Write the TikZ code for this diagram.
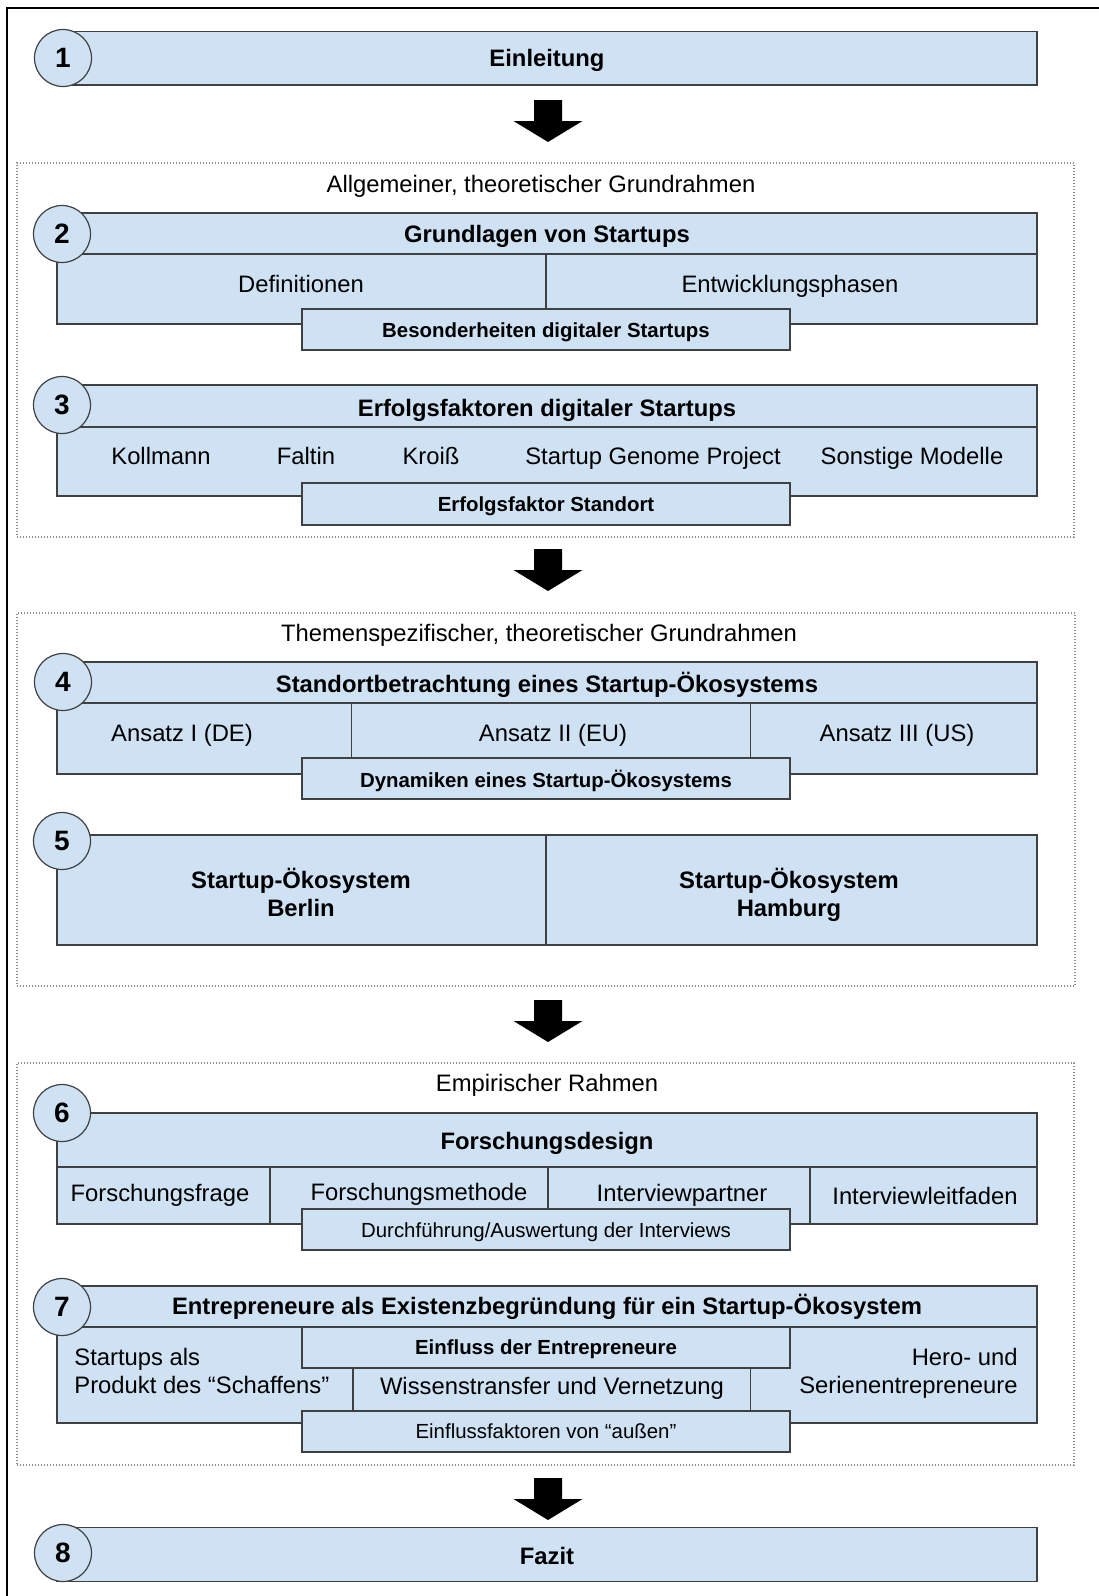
\documentclass[tikz,border=0pt]{standalone}
\usepackage{fontspec}
\setmainfont{Liberation Sans}
\usetikzlibrary{fit}
\definecolor{boxblue}{HTML}{CFE2F3}
\definecolor{boxline}{HTML}{404040}
\definecolor{frameline}{HTML}{8C8C8C}
\newcommand\fmain{\fontsize{11.9pt}{14pt}\selectfont}
\newcommand\fsmall{\fontsize{10.2pt}{12pt}\selectfont}
\newcommand\fnum{\fontsize{14pt}{16pt}\selectfont\bfseries}
\tikzset{
  cell/.style={draw=boxline, fill=boxblue, line width=0.75pt, inner sep=0pt, rectangle},
  sectframe/.style={draw=frameline, line width=0.6pt, dash pattern=on 0.5pt off 1pt, inner sep=0pt, rectangle},
  num/.style={circle, draw=boxline, fill=boxblue, line width=0.6pt, minimum size=28.5pt, inner sep=0pt, font=\fnum},
  txt/.style={anchor=base, inner sep=0pt, font=\fmain},
  btxt/.style={anchor=base, inner sep=0pt, font=\fmain\bfseries},
  stxt/.style={anchor=base, inner sep=0pt, font=\fsmall},
  sbtxt/.style={anchor=base, inner sep=0pt, font=\fsmall\bfseries},
  downarr/.pic={\fill[black] (-14,0) -- (14,0) -- (14,21) -- (34.5,21) -- (0,42) -- (-34.5,21) -- (-14,21) -- cycle;}
}
\begin{document}
\begin{tikzpicture}[x=0.5pt,y=-0.5pt]
\useasboundingbox (0,0) rectangle (1098,1596);
% outer frame (cut off at right and bottom)
\draw[black, line width=1pt] (1120,8) -- (7,8) -- (7,1620);

% dotted section frames
\node[sectframe, fit={(17,163) (1074,537)}] (frA) {};
\node[sectframe, fit={(17,613) (1075,986)}] (frB) {};
\node[sectframe, fit={(17,1063) (1074,1465)}] (frC) {};
\node[txt] (tA) at (541,192.5) {Allgemeiner, theoretischer Grundrahmen};
\node[txt] (tB) at (539,641.5) {Themenspezifischer, theoretischer Grundrahmen};
\node[txt] (tC) at (547,1091.5) {Empirischer Rahmen};

% arrows
\pic (a1) at (548,100) {downarr};
\pic (a2) at (548,549) {downarr};
\pic (a3) at (548,1000) {downarr};
\pic (a4) at (548,1478) {downarr};

% 1
\node[cell, fit={(57,31.7) (1037,85)}] (b1) {};
\node[num] (n1) at (63,58) {1};
\node[btxt] (t1) at (547,66.5) {Einleitung};

% 2
\node[cell, fit={(57,213) (1037,254)}] (h2) {};
\node[cell, fit={(57,254) (546,324)}] (c2a) {};
\node[cell, fit={(546,254) (1037,324)}] (c2b) {};
\node[cell, fit={(302,309) (790,350)}] (o2) {};
\node[num] (n2) at (62,234) {2};
\node[btxt] (t2) at (547,242.5) {Grundlagen von Startups};
\node[txt] (t2a) at (301,292.5) {Definitionen};
\node[txt] (t2b) at (790,292.5) {Entwicklungsphasen};
\node[sbtxt] (t2o) at (546,337.3) {Besonderheiten digitaler Startups};

% 3
\node[cell, fit={(57,385) (1037,427)}] (h3) {};
\node[cell, fit={(57,427) (1037,496)}] (c3) {};
\node[cell, fit={(302,483) (790,525)}] (o3) {};
\node[num] (n3) at (62,405) {3};
\node[btxt] (t3) at (547,416.5) {Erfolgsfaktoren digitaler Startups};
\node[txt] (t3a) at (161,464.5) {Kollmann};
\node[txt] (t3b) at (306,464.5) {Faltin};
\node[txt] (t3c) at (431,464.5) {Kroiß};
\node[txt] (t3d) at (653,464.5) {Startup Genome Project};
\node[txt] (t3e) at (912,464.5) {Sonstige Modelle};
\node[sbtxt] (t3o) at (546,511.3) {Erfolgsfaktor Standort};

% 4
\node[cell, fit={(57,662) (1037,703)}] (h4) {};
\node[cell, fit={(57,703) (351.5,774)}] (c4a) {};
\node[cell, fit={(351.5,703) (750.7,774)}] (c4b) {};
\node[cell, fit={(750.7,703) (1037,774)}] (c4c) {};
\node[cell, fit={(302,758) (790,799)}] (o4) {};
\node[num] (n4) at (63,682) {4};
\node[btxt] (t4) at (547,692.5) {Standortbetrachtung eines Startup-Ökosystems};
\node[txt] (t4a) at (182,741.5) {Ansatz I (DE)};
\node[txt] (t4b) at (553,741.5) {Ansatz II (EU)};
\node[txt] (t4c) at (897,741.5) {Ansatz III (US)};
\node[sbtxt] (t4o) at (546,787.3) {Dynamiken eines Startup-Ökosystems};

% 5
\node[cell, fit={(57,835) (546,945)}] (c5a) {};
\node[cell, fit={(546,835) (1037,945)}] (c5b) {};
\node[num] (n5) at (62,841) {5};
\node[btxt] (t5a1) at (301,888.5) {Startup-Ökosystem};
\node[btxt] (t5a2) at (301,916.5) {Berlin};
\node[btxt] (t5b1) at (789,888.5) {Startup-Ökosystem};
\node[btxt] (t5b2) at (789,916.5) {Hamburg};

% 6
\node[cell, fit={(57,1113) (1037,1167)}] (h6) {};
\node[cell, fit={(57,1167) (270,1224)}] (c6a) {};
\node[cell, fit={(270,1167) (548,1224)}] (c6b) {};
\node[cell, fit={(548,1167) (810,1224)}] (c6c) {};
\node[cell, fit={(810,1167) (1037,1224)}] (c6d) {};
\node[cell, fit={(302,1209) (790,1250)}] (o6) {};
\node[num] (n6) at (62,1113) {6};
\node[btxt] (t6) at (547,1149.5) {Forschungsdesign};
\node[txt] (t6a) at (160,1201.5) {Forschungsfrage};
\node[txt] (t6b) at (419,1200.5) {Forschungsmethode};
\node[txt] (t6c) at (682,1201.5) {Interviewpartner};
\node[txt] (t6d) at (925,1204) {Interviewleitfaden};
\node[stxt] (t6o) at (546,1237.3) {Durchführung/Auswertung der Interviews};

% 7
\node[cell, fit={(57,1286) (1037,1327)}] (h7) {};
\node[cell, fit={(57,1327) (1037,1423)}] (c7) {};
\node[cell, fit={(302,1327) (790,1368)}] (o7a) {};
\node[cell, fit={(353,1368) (750.6,1411)}] (o7b) {};
\node[cell, fit={(302,1411) (790,1452)}] (o7c) {};
\node[num] (n7) at (62,1307) {7};
\node[btxt] (t7) at (547,1314.5) {Entrepreneure als Existenzbegründung für ein Startup-Ökosystem};
\node[txt, anchor=base west] (t7l1) at (74,1365.5) {Startups als};
\node[txt, anchor=base west] (t7l2) at (74,1393.5) {Produkt des “Schaffens”};
\node[txt, anchor=base east] (t7r1) at (1018,1365.5) {Hero- und};
\node[txt, anchor=base east] (t7r2) at (1018,1393.5) {Serienentrepreneure};
\node[sbtxt] (t7a) at (546,1354.3) {Einfluss der Entrepreneure};
\node[txt] (t7b) at (552,1394.5) {Wissenstransfer und Vernetzung};
\node[stxt] (t7c) at (546,1438.3) {Einflussfaktoren von “außen”};

% 8
\node[cell, fit={(57,1527.7) (1037,1581.7)}] (b8) {};
\node[num] (n8) at (63,1553) {8};
\node[btxt] (t8) at (547,1564.5) {Fazit};
\end{tikzpicture}
\end{document}
